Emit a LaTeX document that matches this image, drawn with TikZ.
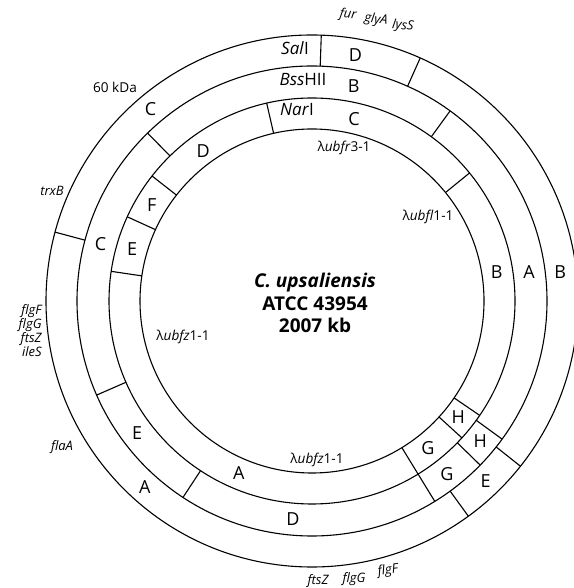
\documentclass[tikz,border=0pt]{standalone}
\usepackage{fontspec}
\setmainfont{Open Sans}
\usetikzlibrary{positioning}
\tikzset{
  ring/.style={draw=black,line width=0.55pt},
  cut/.style={draw=black,line width=0.55pt},
  frag/.style={font=\fontsize{9}{10}\selectfont,inner sep=0pt},
  enz/.style={font=\fontsize{8.5}{10}\selectfont,inner sep=0pt},
  gene/.style={font=\fontsize{6.5}{7}\selectfont\itshape,inner sep=0pt},
  probe/.style={font=\fontsize{6.8}{8}\selectfont,inner sep=0pt},
  strain/.style={font=\fontsize{9.5}{11.3}\selectfont\bfseries,align=center,inner sep=0pt}}
\begin{document}
\begin{tikzpicture}[x=0.5pt,y=0.5pt]
  \useasboundingbox (0,0) rectangle (573,588);
  \coordinate (o) at (312,287);
  % four circles
  \foreach \r in {266,235,203,172}
    \draw[ring] (o) circle[radius=\r];
  % SalI cuts (outer ring)
  \foreach \a in {88,66,-38.4,-54,165}
    \draw[cut] ([shift={(\a:235)}]o) -- ([shift={(\a:266)}]o);
  % BssHII cuts
  \foreach \a in {54,134.4,203.6,236.7,-36,-44.3}
    \draw[cut] ([shift={(\a:203)}]o) -- ([shift={(\a:235)}]o);
  % NarI cuts
  \foreach \a in {102.9,39.1,142,155.5,171.6,-34.3,-42.4}
    \draw[cut] ([shift={(\a:172)}]o) -- ([shift={(\a:203)}]o);
  \draw[cut] ([shift={(-58.5:172)}]o) -- ([shift={(-58.5:235)}]o);
  % fragments, outer ring
  \node[frag] (s1) at ([shift={(80:250)}]o) {D};
  \node[frag] (s2) at ([shift={(130:251)}]o) {C};
  \node[frag] (s3) at ([shift={(228:250)}]o) {A};
  \node[frag] (s4) at ([shift={(-46:250)}]o) {E};
  \node[frag] (s5) at ([shift={(6.7:250)}]o) {B};
  % fragments, middle ring
  \node[frag] (b1) at ([shift={(79:219)}]o) {B};
  \node[frag] (b2) at ([shift={(165:219)}]o) {C};
  \node[frag] (b3) at ([shift={(217:219)}]o) {E};
  \node[frag] (b4) at ([shift={(265:219)}]o) {D};
  \node[frag] (b5) at ([shift={(-52:219)}]o) {G};
  \node[frag] (b6) at ([shift={(-39.8:219)}]o) {H};
  \node[frag] (b7) at ([shift={(7.6:219)}]o) {A};
  % fragments, inner ring
  \node[frag] (n1) at ([shift={(77:187)}]o) {C};
  \node[frag] (n2) at ([shift={(126:185)}]o) {D};
  \node[frag] (n3) at ([shift={(149:187)}]o) {F};
  \node[frag] (n4) at ([shift={(164:187)}]o) {E};
  \node[frag] (n5) at ([shift={(247:187)}]o) {A};
  \node[frag] (n6) at ([shift={(-51.7:187)}]o) {G};
  \node[frag] (n7) at ([shift={(-38.5:187)}]o) {H};
  \node[frag] (n8) at ([shift={(9:187)}]o) {B};
  % enzymes
  \node[enz] (sal) at (295,540) {\textit{Sal}I};
  \node[enz] (bss) at (303,508) {\textit{Bss}HII};
  \node[enz] (nar) at (297,478) {\textit{Nar}I};
  % probes
  \node[probe] (pr1) at (344,440) {λ\textit{ubfr}3-1};
  \node[probe] (pr2) at (428,371) {λ\textit{ubfl}1-1};
  \node[probe] (pr3) at (183,251) {λ\textit{ubfz}1-1};
  \node[probe] (pr4) at (317,128) {λ\textit{ubfz}1-1};
  % genome
  \node[strain] (gen) at (315,285) {\textit{C. upsaliensis}\\ATCC 43954\\2007 kb};
  % genes outside
  \node[gene,rotate=-7] (fur) at (348,573) {fur};
  \node[gene,rotate=-7] (gly) at (376,568) {glyA};
  \node[gene,rotate=-7] (lys) at (403,562) {lysS};
  \node[probe] (kda) at (115,501) {60 kDa};
  \node[gene] (trx) at (52,397) {trxB};
  \node[gene,align=right,anchor=east] (flg) at (42,257) {flgF\\flgG\\ftsZ\\ileS};
  \node[gene] (fla) at (62,141) {flaA};
  \node[gene] (fts) at (318,7) {ftsZ};
  \node[gene] (flgb) at (354,9) {flgG};
  \node[gene,rotate=8] (flgc) at (388,17) {flgF};
\end{tikzpicture}
\end{document}
